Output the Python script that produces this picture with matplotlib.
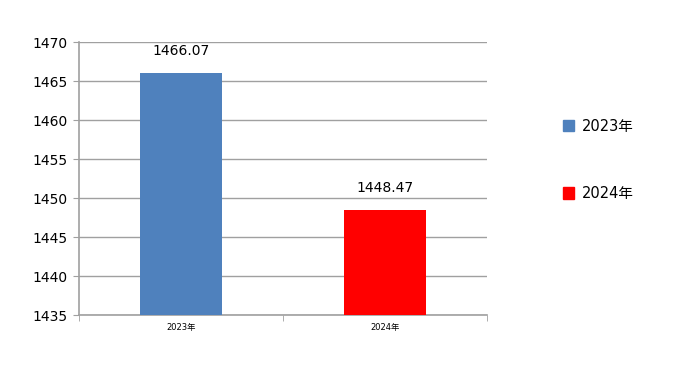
import matplotlib.pyplot as plt
from matplotlib.patches import Patch

plt.rcParams['font.family'] = ['DejaVu Sans', 'Noto Sans CJK SC']

years = ['2023年', '2024年']
values = [1466.07, 1448.47]
colors = ['#4f81bd', '#ff0000']
yticks = [1435, 1440, 1445, 1450, 1455, 1460, 1465, 1470]

fig = plt.figure(figsize=(7, 3.76), dpi=100)
ax = fig.add_axes([0.113, 0.162, 0.583, 0.726])

x = list(range(len(years)))
ax.bar(x, [v - 1435 for v in values], bottom=1435, width=0.4, color=colors, zorder=3)
for xi, v in zip(x, values):
    ax.text(xi, v + 1.9, f'{v:.2f}', ha='center', va='bottom', fontsize=10)

ax.set_xlim(-0.5, 1.5)
ax.set_ylim(1435, 1470)
ax.set_yticks(yticks)
ax.set_yticklabels([str(t) for t in yticks], fontsize=10)
ax.set_xticks(x)
ax.set_xticklabels(years, fontsize=6, family=['DejaVu Sans', 'Noto Sans CJK SC'])
ax.tick_params(axis='x', length=0, pad=6)
ax.set_xticks([-0.5, 0.5, 1.5], minor=True)
ax.tick_params(axis='x', which='minor', length=4, color='#a0a0a0')
ax.tick_params(axis='y', length=4, color='#a0a0a0', pad=4)
ax.grid(axis='y', color='#a0a0a0', linewidth=1, zorder=0)
for s in ['top', 'right']:
    ax.spines[s].set_visible(False)
for s in ['left', 'bottom']:
    ax.spines[s].set_color('#a0a0a0')
    ax.spines[s].set_linewidth(1.2)

handles = [Patch(color=c, label=y) for c, y in zip(colors, years)]
fig.legend(handles=handles, loc='center left', bbox_to_anchor=(0.785, 0.575),
           frameon=False, fontsize=10.5, labelspacing=3.6,
           handlelength=0.8, handleheight=0.8, handletextpad=0.5)

fig.savefig('out.png', dpi=100)
